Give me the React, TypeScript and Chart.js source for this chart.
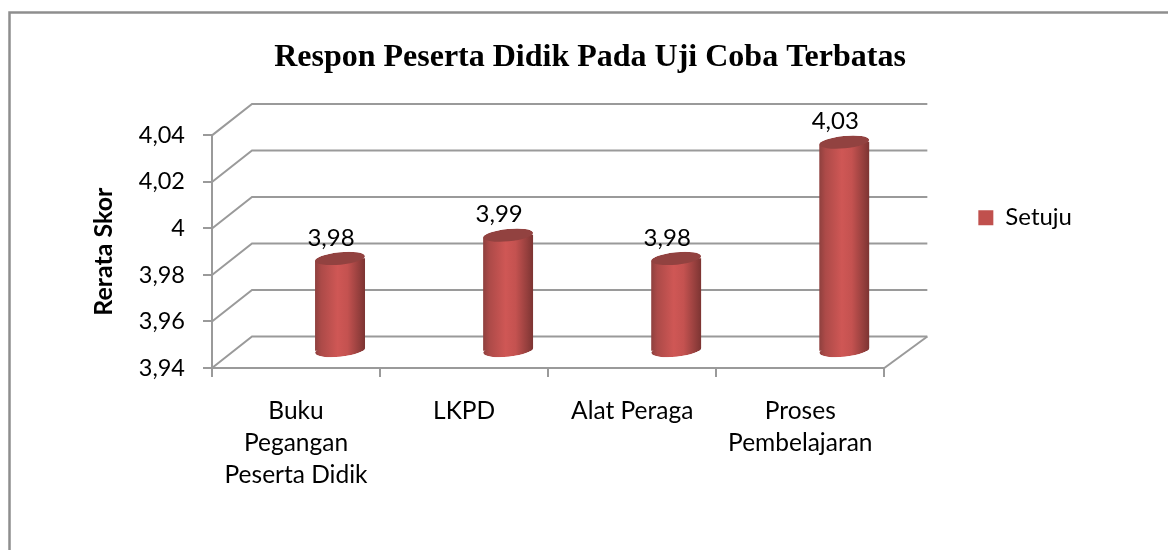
import React, { useEffect, useRef } from "react";
import { Chart, registerables } from "chart.js";

Chart.register(...registerables);

const titleText = "Respon Peserta Didik Pada Uji Coba Terbatas";
const yTitle = "Rerata Skor";
const seriesName = "Setuju";
const categories = [
  ["Buku", "Pegangan", "Peserta Didik"],
  ["LKPD"],
  ["Alat Peraga"],
  ["Proses", "Pembelajaran"],
];
const values = [3.98, 3.99, 3.98, 4.03];
const yMin = 3.94;
const yMax = 4.04;
const yStep = 0.02;

const GRID = "#9a9a9a";
const SANS = "Lato";
const DEPTH_X = 40;
const DEPTH_Y = -31.5;
const BAR_DX = 44;
const BAR_DY = -16.5;
const BAR_W = 50;
const TILT = -0.1;
const RY = 6.2;
const SLANT = 2.4;

const comma = (v: number) => String(+v.toFixed(2)).replace(".", ",");

const wallsPlugin = {
  id: "walls",
  afterLayout(chart: any) {
    const l = chart.legend;
    if (l) {
      l.top -= 34;
      l.bottom -= 34;
    }
    const t = chart.titleBlock;
    if (t) {
      t.left = 12;
      t.right = 1168;
    }
  },
  beforeDraw(chart: any) {
    const { ctx, width, height } = chart;
    ctx.save();
    ctx.strokeStyle = "#8e8e8e";
    ctx.lineWidth = 2.5;
    ctx.strokeRect(9.5, 12.5, width + 20, height + 20);
    ctx.restore();
  },
  beforeDatasetsDraw(chart: any) {
    const { ctx, scales } = chart;
    const x = scales.x;
    const y = scales.y;
    ctx.save();
    ctx.strokeStyle = GRID;
    ctx.lineWidth = 2;
    for (const t of y.ticks) {
      const py = y.getPixelForValue(t.value);
      ctx.beginPath();
      ctx.moveTo(x.left, py);
      ctx.lineTo(x.left + DEPTH_X, py + DEPTH_Y);
      ctx.lineTo(x.right + DEPTH_X + 3, py + DEPTH_Y);
      ctx.stroke();
    }
    ctx.beginPath();
    ctx.moveTo(x.right, y.bottom);
    ctx.lineTo(x.right + DEPTH_X + 3, y.bottom + DEPTH_Y);
    ctx.stroke();
    ctx.restore();
  },
  beforeDatasetDraw(chart: any, args: any) {
    const { ctx } = chart;
    ctx.save();
    ctx.translate(BAR_DX, BAR_DY);
    const meta = chart.getDatasetMeta(args.index);
    ctx.beginPath();
    for (const el of meta.data as any[]) {
      const l = el.x - BAR_W / 2;
      const r = el.x + BAR_W / 2;
      ctx.moveTo(l, el.y + SLANT);
      ctx.lineTo(r, el.y - SLANT);
      ctx.lineTo(r, el.base - SLANT);
      ctx.lineTo(l, el.base + SLANT);
      ctx.closePath();
      ctx.moveTo(el.x + BAR_W / 2, el.y);
      ctx.ellipse(el.x, el.y, BAR_W / 2, RY, TILT, 0, Math.PI * 2);
      ctx.closePath();
      ctx.moveTo(el.x + BAR_W / 2, el.base);
      ctx.ellipse(el.x, el.base, BAR_W / 2, RY, TILT, 0, Math.PI * 2);
      ctx.closePath();
    }
    ctx.clip();
  },
  afterDatasetDraw(chart: any, args: any) {
    const { ctx } = chart;
    const meta = chart.getDatasetMeta(args.index);
    meta.data.forEach((el: any, i: number) => {
      ctx.beginPath();
      ctx.ellipse(el.x, el.base, BAR_W / 2, RY, TILT, 0, Math.PI * 2);
      ctx.fillStyle = barGradient(chart, i);
      ctx.fill();
      ctx.beginPath();
      ctx.ellipse(el.x, el.y, BAR_W / 2, RY, TILT, 0, Math.PI * 2);
      ctx.fillStyle = "#924240";
      ctx.fill();
    });
    ctx.restore();
    ctx.save();
    ctx.fillStyle = "#000";
    ctx.font = `24px ${SANS}`;
    ctx.textAlign = "center";
    ctx.textBaseline = "middle";
    meta.data.forEach((el: any, i: number) => {
      ctx.fillText(comma(values[i]), el.x + 35, el.y - 37);
    });
    ctx.restore();
  },
};

function barGradient(chart: any, i: number) {
  const cx = chart.scales.x.getPixelForValue(i);
  const g = chart.ctx.createLinearGradient(cx - BAR_W / 2, 0, cx + BAR_W / 2, 0);
  g.addColorStop(0, "#8e403e");
  g.addColorStop(0.12, "#ac4a48");
  g.addColorStop(0.45, "#cf5755");
  g.addColorStop(0.65, "#c45250");
  g.addColorStop(0.88, "#953f3d");
  g.addColorStop(1, "#7c3432");
  return g;
}

export default function App() {
  const ref = useRef<HTMLCanvasElement>(null);
  useEffect(() => {
    const chart = new Chart(ref.current!, {
      type: "bar",
      data: {
        labels: categories,
        datasets: [
          {
            label: seriesName,
            data: values,
            base: yMin,
            barThickness: BAR_W,
            clip: false,
            borderWidth: 0,
            backgroundColor: (c: any) => barGradient(c.chart, c.dataIndex),
          } as any,
        ],
      },
      options: {
        responsive: false,
        animation: false,
        layout: { padding: { left: 12, right: 86, top: 0, bottom: 0 } },
        plugins: {
          tooltip: { enabled: false },
          title: {
            display: true,
            text: titleText,
            color: "#000",
            font: { family: "Liberation Serif", size: 32, weight: "bold" },
            padding: { top: 39, bottom: 58 },
          },
          legend: {
            position: "right",
            fullSize: false,
            labels: {
              padding: 94,
              boxWidth: 15,
              boxHeight: 15,
              color: "#000",
              font: { family: SANS, size: 24 },
              generateLabels: () => [
                { text: seriesName, fillStyle: "#c0504d", strokeStyle: "#c0504d", lineWidth: 0, datasetIndex: 0 },
              ],
            },
          },
        },
        scales: {
          x: {
            grid: { drawOnChartArea: false, drawTicks: true, tickLength: 9, color: GRID, lineWidth: 2 },
            border: { color: GRID, width: 2 },
            ticks: {
              color: "#000",
              padding: 18,
              maxRotation: 0,
              autoSkip: false,
              font: { family: SANS, size: 24.5, lineHeight: 1.31 },
            },
            afterFit: (s: any) => {
              s.height = 182;
            },
          },
          y: {
            min: yMin,
            max: yMax,
            grid: { drawOnChartArea: false, drawTicks: true, tickLength: 9, color: GRID, lineWidth: 2 },
            border: { color: GRID, width: 2 },
            ticks: {
              stepSize: yStep,
              color: "#000",
              padding: 18,
              font: { family: SANS, size: 23.5 },
              callback: (v: any) => comma(Number(v)),
            },
            title: {
              display: true,
              text: yTitle,
              color: "#000",
              font: { family: SANS, size: 25, weight: "bold" },
              padding: { top: 77, bottom: 0 },
            },
            afterFit: (s: any) => {
              s.width = 200;
            },
          },
        },
      },
      plugins: [wallsPlugin],
    } as any);
    return () => chart.destroy();
  }, []);
  return (
    <div style={{ position: "fixed", left: 0, top: 0, width: 1168, height: 550, background: "#fff" }}>
      <canvas ref={ref} width={1168} height={550} style={{ display: "block" }} />
    </div>
  );
}
